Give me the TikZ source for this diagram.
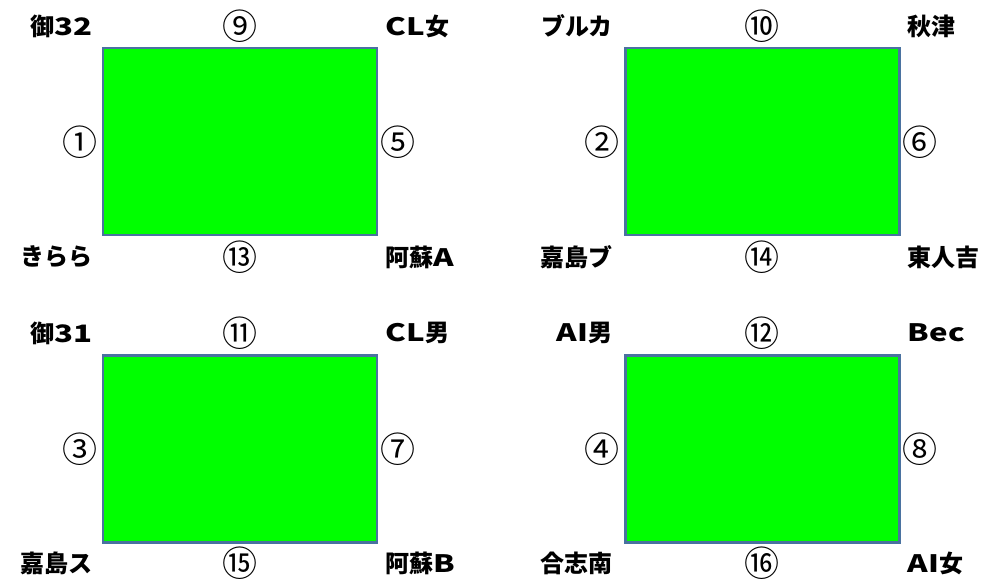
\documentclass[tikz,border=0pt]{standalone}
\usepackage{fontspec}
\newfontfamily\jp{Noto Sans CJK JP}
\newcommand\wl[1]{{\addfontfeature{FakeStretch=1.3,LetterSpace=3}#1}}
\definecolor{boxgreen}{HTML}{00FF00}
\definecolor{boxline}{HTML}{4A72A0}
\tikzset{
  box/.style={draw=boxline, fill=boxgreen, line width=2.2pt, minimum width=274pt, minimum height=187pt, inner sep=0pt},
  corner/.style={font=\jp\bfseries\fontsize{24}{26}\selectfont, inner sep=0pt},
  cornerL/.style={corner, anchor=east},
  cornerR/.style={corner, anchor=west},
  num/.style={font=\jp\fontsize{35}{37}\selectfont, inner sep=0pt}
}
\begin{document}
\begin{tikzpicture}[x=1pt,y=-1pt]
\useasboundingbox (0,0) rectangle (995,578);
% boxes
\node[box] (r1) at (240,141.5) {};
\node[box] (r2) at (762.5,141.5) {};
\node[box] (r3) at (240,449) {};
\node[box] (r4) at (762.5,449) {};
% box 1
\node[cornerL] (a1) at (93,26) {御\wl{32}};
\node[num] (n9) at (240,26) {⑨};
\node[cornerR] (b1) at (385,26) {\wl{CL}女};
\node[num] (n1) at (80,142) {①};
\node[num] (n5) at (398,142) {⑤};
\node[cornerL] (c1) at (93,257) {きらら};
\node[num] (n13) at (240,257) {⑬};
\node[cornerR] (d1) at (385,257) {阿蘇\wl{A}};
% box 2
\node[cornerL] (a2) at (613,26) {ブルカ};
\node[num] (n10) at (762,26) {⑩};
\node[cornerR] (b2) at (907,26) {秋津};
\node[num] (n2) at (602,142) {②};
\node[num] (n6) at (920,142) {⑥};
\node[cornerL] (c2) at (613,257) {嘉島ブ};
\node[num] (n14) at (762,257) {⑭};
\node[cornerR] (d2) at (907,257) {東人吉};
% box 3
\node[cornerL] (a3) at (93,333) {御\wl{31}};
\node[num] (n11) at (240,333) {⑪};
\node[cornerR] (b3) at (385,333) {\wl{CL}男};
\node[num] (n3) at (80,449) {③};
\node[num] (n7) at (398,449) {⑦};
\node[cornerL] (c3) at (93,563) {嘉島ス};
\node[num] (n15) at (240,563) {⑮};
\node[cornerR] (d3) at (385,563) {阿蘇\wl{B}};
% box 4
\node[cornerL] (a4) at (613,333) {\wl{AI}男};
\node[num] (n12) at (762,333) {⑫};
\node[cornerR] (b4) at (907,333) {\wl{Bec}};
\node[num] (n4) at (602,449) {④};
\node[num] (n8) at (920,449) {⑧};
\node[cornerL] (c4) at (613,563) {合志南};
\node[num] (n16) at (762,563) {⑯};
\node[cornerR] (d4) at (907,563) {\wl{AI}女};
\end{tikzpicture}
\end{document}
